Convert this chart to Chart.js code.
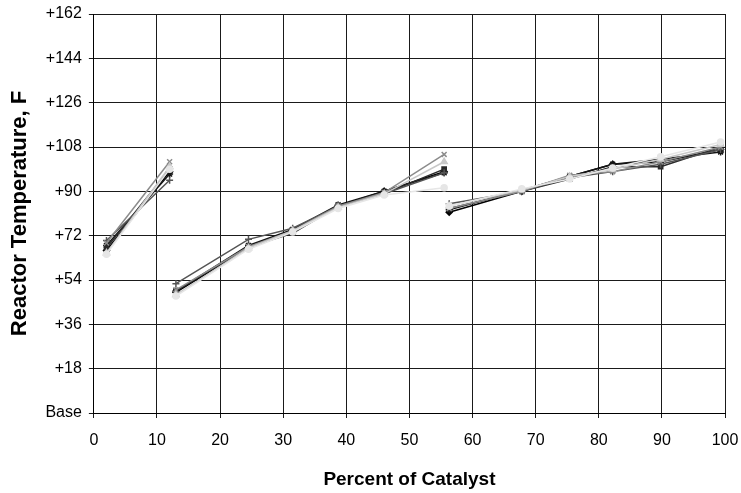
<!DOCTYPE html>
<html>
<head>
<meta charset="utf-8">
<script src="https://cdn.jsdelivr.net/npm/chart.js@4/dist/chart.umd.min.js"></script>
<style>
  html, body { margin: 0; padding: 0; background: #fff; }
  #wrap { width: 741px; height: 493px; }
</style>
</head>
<body>
<div id="wrap"><canvas id="chart" width="741" height="493"></canvas></div>
<script>
// catalyst % at each reading, three runs
const xLeft = [2, 12];
const xMid = [13, 24.5, 31.5, 38.7, 46, 55.5];
const xRight = [56.3, 67.8, 75.4, 82.2, 89.8, 99.3];

const yTicks = [0, 18, 36, 54, 72, 90, 108, 126, 144, 162];

// temperature rise above base, F
const diamondLeft = [66, 98];
const diamondMid = [49, 67, 74, 84, 90, 98];
const diamondRight = [81.5, 90, 96, 101, 102, 107];

const squareLeft = [67, 99];
const squareMid = [49.5, 67.5, 73, 84, 89, 99];
const squareRight = [83, 90, 95, 100, 100, 108];

const triLeft = [65, 100];
const triMid = [48, 67, 74, 83.5, 89, 102];
const triRight = [84, 90.5, 96, 99, 103, 109];

const xLeftVals = [69, 102];
const xMidVals = [50, 67.5, 74, 84, 89.5, 105];
const xRightVals = [83, 90, 96.5, 98, 102, 108];

const starLeft = [68, 97];
const starMid = [49.5, 68, 74.5, 84.5, 90, 97.5];
const starRight = [82.5, 90.5, 96, 101, 103, 106];

const circleLeft = [64.5, 99];
const circleMid = [47.5, 66.5, 73.5, 83, 88.5, 91.5];
const circleRight = [84, 91, 95, 99.5, 104, 110];

const plusLeft = [70, 94.5];
const plusMid = [52.5, 70.5, 75, 84, 89, 97.5];
const plusRight = [85, 90, 95.5, 98, 101, 107];

function buildPoints(l, m, r) {
  const pts = [];
  xLeft.forEach((x, i) => pts.push({ x: x, y: l[i] }));
  pts.push({ x: 12.5, y: null });
  xMid.forEach((x, i) => pts.push({ x: x, y: m[i] }));
  pts.push({ x: 55.9, y: null });
  xRight.forEach((x, i) => pts.push({ x: x, y: r[i] }));
  return pts;
}

function series(label, l, m, r, color, style, radius) {
  return {
    label: label,
    data: buildPoints(l, m, r),
    borderColor: color,
    backgroundColor: color,
    pointBorderColor: color,
    pointBackgroundColor: color,
    pointStyle: style,
    pointRadius: radius,
    borderWidth: 1.5,
    pointBorderWidth: 1.5,
    spanGaps: false,
    tension: 0
  };
}

const datasets = [
  series("A", circleLeft, circleMid, circleRight, "#e6e6e6", "circle", 3),
  series("B", triLeft, triMid, triRight, "#c8c8c8", "triangle", 3.5),
  series("C", xLeftVals, xMidVals, xRightVals, "#8c8c8c", "crossRot", 3.5),
  series("D", plusLeft, plusMid, plusRight, "#555555", "cross", 3.5),
  series("E", squareLeft, squareMid, squareRight, "#2a2a2a", "rect", 3),
  series("F", starLeft, starMid, starRight, "#151515", "star", 3.5),
  series("G", diamondLeft, diamondMid, diamondRight, "#000000", "rectRot", 3)
];

new Chart(document.getElementById("chart").getContext("2d"), {
  type: "line",
  data: { datasets: datasets },
  options: {
    responsive: false,
    animation: false,
    layout: { padding: { top: 14, right: 16, bottom: 2, left: 7 } },
    plugins: {
      legend: { display: false },
      tooltip: { enabled: false }
    },
    scales: {
      x: {
        type: "linear",
        min: 0,
        max: 100,
        afterFit: scale => { scale.paddingRight = 0; },
        ticks: {
          stepSize: 10,
          color: "#000",
          font: { family: "Liberation Sans, Arial", size: 16 },
          padding: 13
        },
        grid: { color: "#1a1a1a", lineWidth: 1, tickLength: 5 },
        border: { color: "#000", width: 1 },
        title: {
          display: true,
          text: "Percent of Catalyst",
          color: "#000",
          font: { family: "Liberation Sans, Arial", size: 19, weight: "bold" },
          padding: { top: 5, bottom: 0 }
        }
      },
      y: {
        min: 0,
        max: 162,
        afterBuildTicks: axis => { axis.ticks = yTicks.map(v => ({ value: v })); },
        afterFit: scale => { scale.paddingTop = 0; },
        ticks: {
          color: "#000",
          font: { family: "Liberation Sans, Arial", size: 16 },
          padding: 7,
          callback: v => v === 0 ? "Base" : "+" + v
        },
        grid: { color: "#1a1a1a", lineWidth: 1, tickLength: 5 },
        border: { color: "#000", width: 1 },
        title: {
          display: true,
          text: "Reactor Temperature, F",
          color: "#000",
          font: { family: "Liberation Sans, Arial", size: 22, weight: "bold" },
          padding: { top: 0, bottom: 5 }
        }
      }
    }
  }
});
</script>
</body>
</html>
